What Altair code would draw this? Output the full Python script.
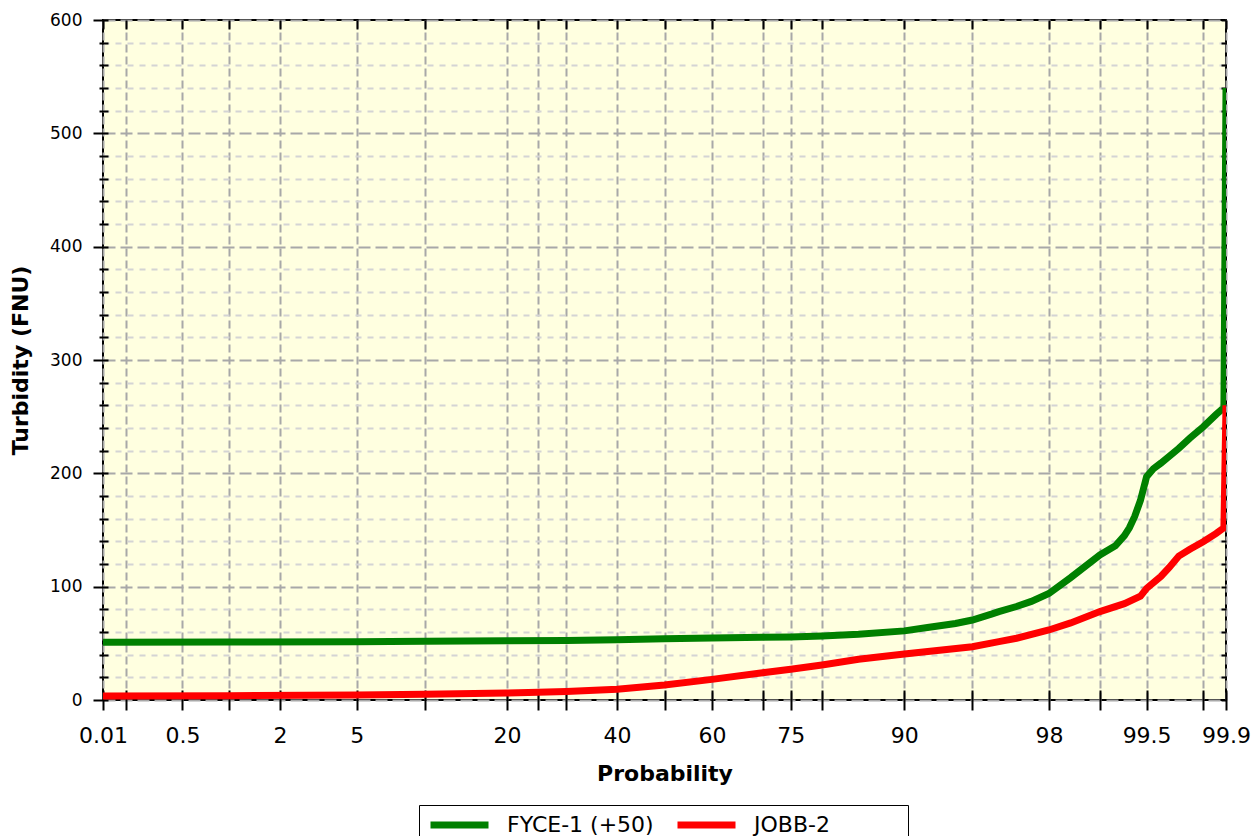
import altair as alt
import pandas as pd
from statistics import NormalDist

# ---------------- data ----------------
series_names = ["FYCE-1 (+50)", "JOBB-2"]
series_colors = ["#008000", "#ff0000"]

fyce_pct = [0.135, 1, 5, 10, 20, 30, 40, 50, 60, 70, 75, 80, 85, 90, 92, 94, 95,
            96, 96.3, 97, 97.5, 98, 98.5, 99, 99.2, 99.3, 99.35, 99.4, 99.45, 99.5,
            99.55, 99.6, 99.7, 99.75, 99.8, 99.84, 99.86, 99.865]
fyce_val = [51, 51.2, 51.5, 51.8, 52.2, 52.6, 53.2, 54, 54.6, 55.3, 55.6, 56.5, 58,
            61, 64, 67.5, 70.6, 76, 78, 82.5, 87, 94, 108, 128, 136, 145, 152, 162,
            176, 197, 204, 209, 222, 231, 241, 252, 258, 540]

jobb_pct = [0.135, 1, 5, 10, 20, 25, 30, 40, 50, 60, 70, 75, 80, 85, 90, 95, 96.3,
            97, 98, 98.5, 99, 99.3, 99.45, 99.5, 99.6, 99.65, 99.7, 99.75, 99.8,
            99.84, 99.86, 99.865]
jobb_val = [3.5, 3.8, 4.4, 5, 6.2, 6.8, 7.5, 9.4, 13.2, 18.2, 24.1, 27.1, 30.9, 36,
            40.6, 47, 51.5, 54.5, 61.8, 68, 78, 85, 91.5, 98.5, 109, 117, 127, 133,
            139.7, 147, 152, 260]

tick_pct = [0.135, 0.2, 0.5, 1, 2, 5, 10, 20, 25, 30, 40, 50, 60, 70, 75, 80, 90,
            95, 98, 99, 99.5, 99.8, 99.865]
tick_label = ["0.01", "", "0.5", "", "2", "5", "", "20", "", "", "40", "", "60", "",
              "75", "", "90", "", "98", "", "99.5", "", "99.9"]

y_ticks = list(range(0, 601, 20))

# ---------------- probability (normal) transform ----------------
nd = NormalDist()


def zscore(pct):
    return max(-3.0, min(3.0, nd.inv_cdf(pct / 100.0)))


rows = []
for name, pcts, vals in [(series_names[0], fyce_pct, fyce_val),
                         (series_names[1], jobb_pct, jobb_val)]:
    for i, (p, v) in enumerate(zip(pcts, vals)):
        rows.append({"series": name, "idx": i, "z": zscore(p), "value": v})
df = pd.DataFrame(rows)

tick_z = [round(zscore(p), 6) for p in tick_pct]
label_expr = " : ".join(
    f"abs(datum.value - ({zv})) < 0.001 ? '{lab}'"
    for zv, lab in zip(tick_z, tick_label) if lab
) + " : ''"

# legend columns share one width in the reference: pad the shorter label
# (non-breaking spaces, closed by a zero-width space so they are not trimmed)
pad = "\u00a0" * 10 + "\u200b"
legend_label_expr = f"datum.label === '{series_names[1]}' ? datum.label + '{pad}' : datum.label"

FONT = "DejaVu Sans"
xscale = alt.Scale(domain=[-3, 3], nice=False, zero=False)
yscale = alt.Scale(domain=[0, 600], nice=False, zero=False)
major = "datum.value % 100 === 0"

base = alt.Chart(df)

lines = base.mark_line(strokeWidth=7, clip=True).encode(
    x=alt.X("z:Q", scale=xscale, axis=alt.Axis(
        orient="bottom", values=tick_z, labelExpr=label_expr, labelOverlap=False,
        labelFlush=False, labelBound=False,
        title="Probability", offset=-10, tickSize=20, tickWidth=2, tickColor="black",
        domain=False, grid=True, gridColor="#a8a8a8", gridDash=[8, 4], gridWidth=2,
        labelFont=FONT, labelFontSize=22, labelColor="black", labelPadding=15,
        titleFont=FONT, titleFontSize=22, titleFontWeight="bold", titleColor="black",
        titlePadding=17)),
    y=alt.Y("value:Q", scale=yscale, axis=alt.Axis(
        orient="left", values=y_ticks, labelExpr=f"{major} ? datum.label : ''",
        labelOverlap=False, labelFlush=False, title="Turbidity (FNU)", offset=-5,
        tickSize={"condition": {"test": major, "value": 15}, "value": 9},
        tickWidth=2, tickColor="black", domain=False, grid=True,
        gridColor={"condition": {"test": major, "value": "#a8a8a8"}, "value": "#d4d4d4"},
        gridDash={"condition": {"test": major, "value": [12, 5]}, "value": [6, 6]},
        gridWidth=2, labelFont=FONT, labelFontSize=17, labelColor="black",
        labelPadding=11, titleFont=FONT, titleFontSize=22, titleFontWeight="bold",
        titleColor="black", titlePadding=17)),
    color=alt.Color("series:N", scale=alt.Scale(domain=series_names, range=series_colors),
                    legend=alt.Legend(
                        orient="none", legendX=316, legendY=785, direction="horizontal",
                        title=None, symbolType="stroke", symbolStrokeWidth=7,
                        symbolSize=3364, clipHeight=24, labelExpr=legend_label_expr,
                        labelFont=FONT, labelFontSize=22, labelLimit=400,
                        labelColor="black", strokeColor="black", padding=8,
                        columnPadding=20, labelOffset=15)),
    order=alt.Order("idx:Q"),
)

frame_ticks = base.mark_line(opacity=0).encode(
    x=alt.X("z:Q", scale=xscale, axis=alt.Axis(
        orient="top", values=tick_z, labels=False, title=None, grid=False,
        domain=False, offset=-9, tickSize=9, tickWidth=2, tickColor="black")),
    y=alt.Y("value:Q", scale=yscale, axis=alt.Axis(
        orient="right", values=y_ticks, labels=False, title=None, grid=False,
        domain=False, offset=-5, tickSize=5, tickWidth=2, tickColor="black")),
    detail="series:N",
    order=alt.Order("idx:Q"),
)

chart = alt.layer(lines, frame_ticks).resolve_axis(
    x="independent", y="independent"
).properties(
    width=1123, height=680,
    padding={"left": 95, "top": 12, "right": 26, "bottom": 136},
    autosize=alt.AutoSizeParams(type="none"),
    background="white",
).configure_view(
    fill="#ffffe0", stroke="black", strokeWidth=2,
)

chart.save("out.html", embed_options={"renderer": "svg", "actions": False})
